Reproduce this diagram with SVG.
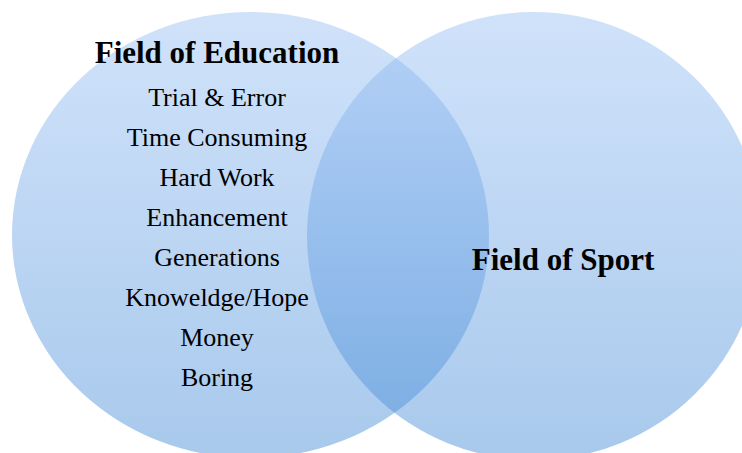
<svg xmlns="http://www.w3.org/2000/svg" width="742" height="453" viewBox="0 0 742 453">
  <defs>
    <linearGradient id="g" x1="0" y1="0" x2="0" y2="1">
      <stop offset="0" stop-color="#97bff4"/>
      <stop offset="1" stop-color="#3e87d5"/>
    </linearGradient>
    <style>
      .circle { fill: url(#g); fill-opacity: 0.45; }
      .title { font-family: "Liberation Serif", "Times New Roman", serif; font-weight: bold; font-size: 31px; fill: #000; text-anchor: middle; }
      .item { font-family: "Liberation Serif", "Times New Roman", serif; font-size: 26px; fill: #000; text-anchor: middle; }
    </style>
  </defs>
  <rect width="742" height="453" fill="#ffffff"/>
  <g id="connectors"></g>
  <g id="education">
    <ellipse class="circle" cx="250.5" cy="235" rx="238.5" ry="223"/>
    <text class="title" x="217" y="62.5">Field of Education</text>
    <text class="item" x="217" y="106">Trial &amp; Error</text>
    <text class="item" x="217" y="146">Time Consuming</text>
    <text class="item" x="217" y="186">Hard Work</text>
    <text class="item" x="217" y="226">Enhancement</text>
    <text class="item" x="217" y="266">Generations</text>
    <text class="item" x="217" y="306">Knoweldge/Hope</text>
    <text class="item" x="217" y="346">Money</text>
    <text class="item" x="217" y="386">Boring</text>
  </g>
  <g id="sport">
    <ellipse class="circle" cx="534" cy="236" rx="227" ry="224"/>
    <text class="title" x="563" y="270">Field of Sport</text>
  </g>
</svg>
